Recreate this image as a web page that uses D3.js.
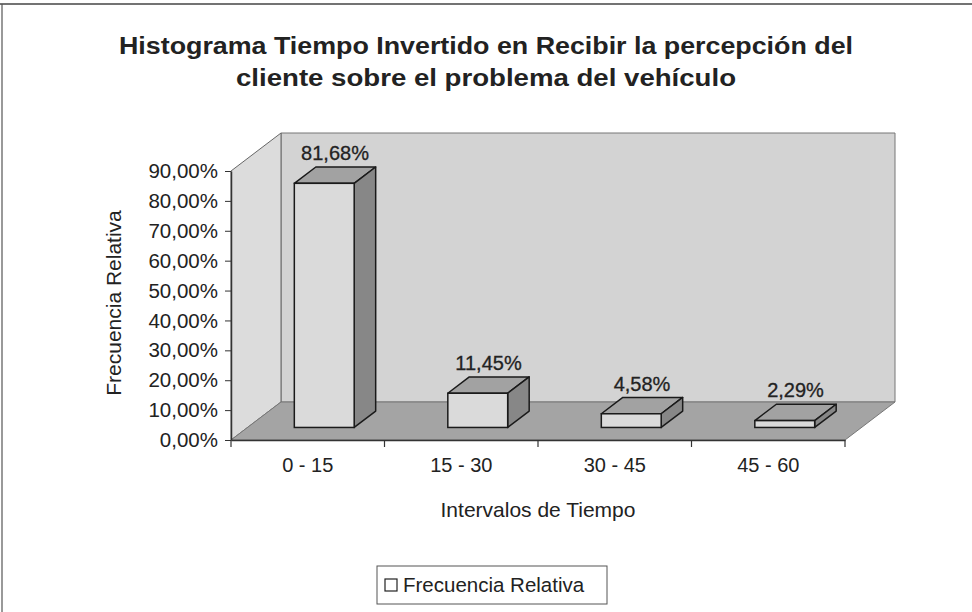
<!DOCTYPE html>
<html>
<head>
<meta charset="utf-8">
<script src="https://cdn.jsdelivr.net/npm/d3@7"></script>
<style>
  body { margin: 0; background: #fff; }
  svg text { font-family: "Liberation Sans", Arial, sans-serif; fill: #222; }
</style>
</head>
<body>
<div class="chart"></div>
<script>
// datos
const categories = ["0 - 15", "15 - 30", "30 - 45", "45 - 60"];
const values = [0.8168, 0.1145, 0.0458, 0.0229];
const yTicks = [0, 0.1, 0.2, 0.3, 0.4, 0.5, 0.6, 0.7, 0.8, 0.9];
const titleLines = ["Histograma Tiempo Invertido en Recibir la percepción del",
    "cliente sobre el problema del vehículo"];

const width = 972, height = 612;

// profundidad 3D (desplazamiento de la pared del fondo)
const DX = 50, DY = -38;
const f1 = 0.33, f2 = 0.76;   // cara frontal / trasera de las barras

const es = d3.formatLocale({decimal: ",", thousands: ".", grouping: [3], currency: ["", "€"]});
const fmt = es.format(".2%");

var svg = d3.select(".chart").append("svg")
    .attr("width", width)
    .attr("height", height);

// marco exterior (solo arriba e izquierda se ven en el escaneo)
svg.append("line").attr("x1", 0).attr("x2", width).attr("y1", 4).attr("y2", 4)
    .attr("stroke", "#444").attr("stroke-width", 1.5);
svg.append("line").attr("x1", 2).attr("x2", 2).attr("y1", 4).attr("y2", height)
    .attr("stroke", "#555").attr("stroke-width", 1.2);

// titulo (el escaneo esta algo estirado en horizontal)
const titleWidths = [734, 500];
svg.append("g").selectAll("text")
    .data(titleLines)
    .enter().append("text")
    .attr("x", 486)
    .attr("y", (d, i) => 54 + i * 32)
    .attr("text-anchor", "middle")
    .attr("font-size", 23)
    .attr("font-weight", "bold")
    .attr("textLength", (d, i) => titleWidths[i])
    .attr("lengthAdjust", "spacingAndGlyphs")
    .text(d => d);

const xScale = d3.scaleBand()
    .domain(categories)
    .range([231, 845]);

const yScale = d3.scaleLinear()
    .domain([0, 0.9])
    .range([440, 171]);

const x0 = xScale.range()[0], x1 = xScale.range()[1];
const yb = yScale(0), yt = yScale(0.9);

const pts = a => a.map(p => p.join(",")).join(" ");

// paredes y piso
svg.append("polygon")
    .attr("points", pts([[x0 + DX, yt + DY], [x1 + DX, yt + DY], [x1 + DX, yb + DY], [x0 + DX, yb + DY]]))
    .attr("fill", "#d3d3d3").attr("stroke", "#777").attr("stroke-width", 1);
svg.append("polygon")
    .attr("points", pts([[x0, yt], [x0 + DX, yt + DY], [x0 + DX, yb + DY], [x0, yb]]))
    .attr("fill", "#dcdcdc").attr("stroke", "#666").attr("stroke-width", 1);
svg.append("polygon")
    .attr("points", pts([[x0, yb], [x0 + DX, yb + DY], [x1 + DX, yb + DY], [x1, yb]]))
    .attr("fill", "#a4a4a4").attr("stroke", "#777").attr("stroke-width", 1);

// barras 3D
const barW = xScale.bandwidth() * 0.39;
const o1 = [f1 * DX, f1 * DY], o2 = [f2 * DX, f2 * DY];

const bars = svg.append("g").selectAll("g")
    .data(categories.map((c, i) => ({c: c, v: values[i]})))
    .enter().append("g");

bars.each(function(d) {
    const g = d3.select(this);
    const xl = xScale(d.c) + (xScale.bandwidth() - barW) / 2, xr = xl + barW;
    const yv = yScale(d.v);
    // cara superior
    g.append("polygon")
        .attr("points", pts([[xl + o1[0], yv + o1[1]], [xl + o2[0], yv + o2[1]], [xr + o2[0], yv + o2[1]], [xr + o1[0], yv + o1[1]]]))
        .attr("fill", "#a2a2a2").attr("stroke", "#1a1a1a").attr("stroke-width", 1.5).attr("stroke-linejoin", "round");
    // cara lateral
    g.append("polygon")
        .attr("points", pts([[xr + o1[0], yv + o1[1]], [xr + o2[0], yv + o2[1]], [xr + o2[0], yb + o2[1]], [xr + o1[0], yb + o1[1]]]))
        .attr("fill", "#878787").attr("stroke", "#1a1a1a").attr("stroke-width", 1.5).attr("stroke-linejoin", "round");
    // cara frontal
    g.append("rect")
        .attr("x", xl + o1[0])
        .attr("y", yv + o1[1])
        .attr("width", barW)
        .attr("height", yb - yv)
        .attr("fill", "#dadada").attr("stroke", "#1a1a1a").attr("stroke-width", 1.5);
    // etiqueta
    g.append("text")
        .attr("x", (xl + xr) / 2 + (o1[0] + o2[0]) / 2)
        .attr("y", yv + (o1[1] + o2[1]) / 2 - 15)
        .attr("text-anchor", "middle")
        .attr("font-size", 20)
        .attr("stroke", "#222").attr("stroke-width", 0.3)
        .text(fmt(d.v));
});

// eje Y
const yAxis = d3.axisLeft(yScale)
    .tickValues(yTicks)
    .tickFormat(fmt)
    .tickSize(6)
    .tickSizeOuter(0)
    .tickPadding(7);

svg.append("g")
    .attr("class", "yAxis")
    .attr("transform", "translate(" + x0 + ",0)")
    .call(yAxis)
    .call(g => g.select(".domain").attr("stroke", "#333").attr("stroke-width", 1.5))
    .call(g => g.selectAll(".tick line").attr("stroke", "#333"))
    .call(g => g.selectAll("text").attr("font-size", 20.5).attr("fill", "#222")
        .style("font-family", "'Liberation Sans', Arial, sans-serif"));

// eje X
const xAxis = d3.axisBottom(xScale)
    .tickSize(0)
    .tickSizeOuter(0)
    .tickPadding(18);

svg.append("g")
    .attr("class", "xAxis")
    .attr("transform", "translate(0," + yb + ")")
    .call(xAxis)
    .call(g => g.select(".domain").attr("stroke", "#333").attr("stroke-width", 1.5))
    .call(g => g.selectAll("text").attr("font-size", 20).attr("fill", "#222")
        .style("font-family", "'Liberation Sans', Arial, sans-serif"));

svg.append("g").selectAll("line")
    .data(categories.map(c => xScale(c)).concat([x1]))
    .enter().append("line")
    .attr("x1", d => d).attr("x2", d => d)
    .attr("y1", yb).attr("y2", yb + 7)
    .attr("stroke", "#333").attr("stroke-width", 1.2);

// titulos de ejes
svg.append("text")
    .attr("transform", "translate(121,303) rotate(-90)")
    .attr("text-anchor", "middle")
    .attr("font-size", 21)
    .text("Frecuencia Relativa");

svg.append("text")
    .attr("x", 538)
    .attr("y", 517)
    .attr("text-anchor", "middle")
    .attr("font-size", 21)
    .text("Intervalos de Tiempo");

// leyenda
const legend = svg.append("g").attr("transform", "translate(377,566)");
legend.append("rect")
    .attr("width", 230).attr("height", 38)
    .attr("fill", "#fff").attr("stroke", "#555").attr("stroke-width", 1);
legend.append("rect")
    .attr("x", 8).attr("y", 13).attr("width", 12).attr("height", 12)
    .attr("fill", "#fff").attr("stroke", "#222").attr("stroke-width", 1.2);
legend.append("text")
    .attr("x", 26).attr("y", 26)
    .attr("font-size", 20.5)
    .text("Frecuencia Relativa");
</script>
</body>
</html>
